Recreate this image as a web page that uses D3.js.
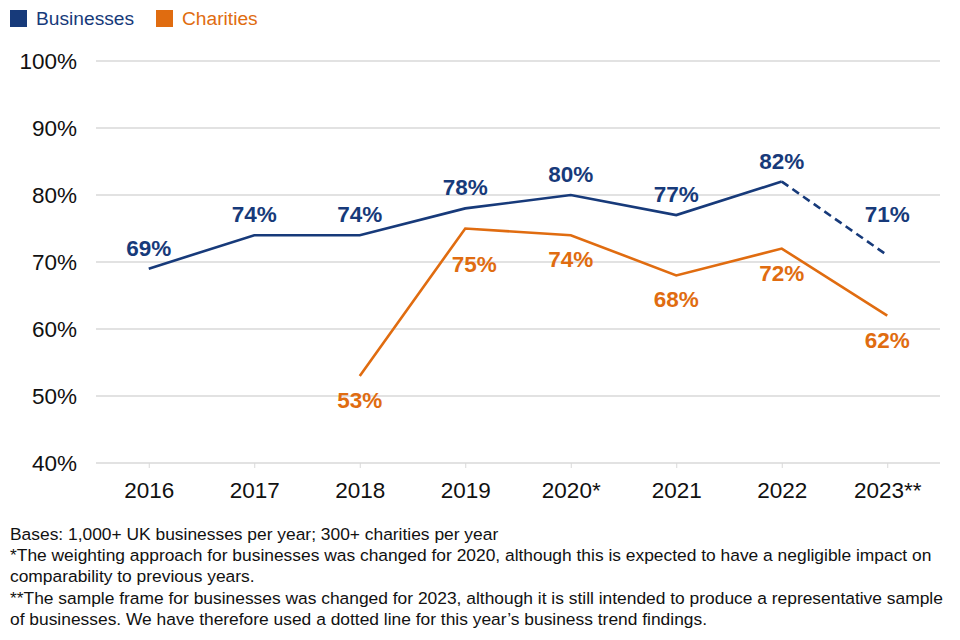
<!DOCTYPE html>
<html lang="en">
  <head>
    <meta charset="UTF-8" />
    <title>Businesses and charities trend</title>
    <script src="https://d3js.org/d3.v7.min.js"></script>
    <style>
      body {
        margin: 0;
        background: #fff;
        font-family: "Liberation Sans", Arial, sans-serif;
      }
    </style>
  </head>
  <body>
    <div class="chart"></div>
  </body>

  <script>
    var years = ["2016", "2017", "2018", "2019", "2020*", "2021", "2022", "2023**"];
    var businesses = [69, 74, 74, 78, 80, 77, 82, 71];
    var charities = [null, null, 53, 75, 74, 68, 72, 62];
    var yTicks = [40, 50, 60, 70, 80, 90, 100];
    var footnotes = [
      "Bases: 1,000+ UK businesses per year; 300+ charities per year",
      "*The weighting approach for businesses was changed for 2020, although this is expected to have a negligible impact on",
      "comparability to previous years.",
      "**The sample frame for businesses was changed for 2023, although it is still intended to produce a representative sample",
      "of businesses. We have therefore used a dotted line for this year\u2019s business trend findings.",
    ];

    var blue = "#173a7a";
    var orange = "#e06c10";

    var width = 960;
    var height = 640;
    var margin = { top: 61, right: 20, bottom: 177, left: 96 };

    var svg = d3
      .select(".chart")
      .append("svg")
      .attr("width", width)
      .attr("height", height);

    var x = d3
      .scalePoint()
      .domain(years)
      .range([margin.left, width - margin.right])
      .padding(0.5);

    var y = d3
      .scaleLinear()
      .domain([40, 100])
      .range([height - margin.bottom, margin.top]);

    // gridlines
    svg
      .append("g")
      .selectAll("line")
      .data(yTicks)
      .join("line")
      .attr("x1", margin.left)
      .attr("x2", width - margin.right)
      .attr("y1", (d) => y(d))
      .attr("y2", (d) => y(d))
      .attr("stroke", "#d9d9d9")
      .attr("stroke-width", 1.3);

    // y axis labels
    var yAxis = d3
      .axisLeft(y)
      .tickValues(yTicks)
      .tickSize(0)
      .tickPadding(19)
      .tickFormat((d) => d + "%");
    svg
      .append("g")
      .attr("transform", `translate(${margin.left}, 0)`)
      .call(yAxis)
      .call((g) => g.select(".domain").remove())
      .selectAll("text")
      .attr("font-family", "Liberation Sans, Arial, sans-serif")
      .attr("font-size", 22.5)
      .attr("fill", "#111");

    // x axis
    var xAxis = d3.axisBottom(x).tickSize(5).tickPadding(14);
    svg
      .append("g")
      .attr("transform", `translate(0, ${y(40)})`)
      .call(xAxis)
      .call((g) => g.select(".domain").remove())
      .call((g) => g.selectAll("line").attr("stroke", "#d9d9d9"))
      .selectAll("text")
      .attr("font-family", "Liberation Sans, Arial, sans-serif")
      .attr("font-size", 22.5)
      .attr("fill", "#111");

    var bizData = years.map((yr, i) => ({ year: yr, v: businesses[i] }));
    var charData = years
      .map((yr, i) => ({ year: yr, v: charities[i] }))
      .filter((d) => d.v != null);

    var line = d3
      .line()
      .x((d) => x(d.year))
      .y((d) => y(d.v));

    // businesses: solid up to 2022, dashed to 2023
    svg
      .append("path")
      .datum(bizData.slice(0, 7))
      .attr("fill", "none")
      .attr("stroke", blue)
      .attr("stroke-width", 2.6)
      .attr("d", line);

    svg
      .append("path")
      .datum(bizData.slice(6))
      .attr("fill", "none")
      .attr("stroke", blue)
      .attr("stroke-width", 2.6)
      .attr("stroke-dasharray", "8,5")
      .attr("d", line);

    svg
      .append("path")
      .datum(charData)
      .attr("fill", "none")
      .attr("stroke", orange)
      .attr("stroke-width", 2.6)
      .attr("d", line);

    // labels (a couple nudged to keep clear of the lines)
    var bizNudge = { "2023**": { dx: 0, dy: -20 } };
    var charNudge = { "2019": { dx: 9, dy: 11 } };

    svg
      .append("g")
      .selectAll("text")
      .data(bizData)
      .join("text")
      .attr("x", (d) => x(d.year) + (bizNudge[d.year] ? bizNudge[d.year].dx : 0))
      .attr("y", (d) => y(d.v) - 13 + (bizNudge[d.year] ? bizNudge[d.year].dy : 0))
      .attr("text-anchor", "middle")
      .attr("font-size", 22.5)
      .attr("font-weight", "bold")
      .attr("fill", blue)
      .text((d) => d.v + "%");

    svg
      .append("g")
      .selectAll("text")
      .data(charData)
      .join("text")
      .attr("x", (d) => x(d.year) + (charNudge[d.year] ? charNudge[d.year].dx : 0))
      .attr("y", (d) => y(d.v) + 32 + (charNudge[d.year] ? charNudge[d.year].dy : 0))
      .attr("text-anchor", "middle")
      .attr("font-size", 22.5)
      .attr("font-weight", "bold")
      .attr("fill", orange)
      .text((d) => d.v + "%");

    // legend
    var legend = svg.append("g");
    var legendItems = [
      { name: "Businesses", color: blue, x: 10 },
      { name: "Charities", color: orange, x: 156 },
    ];
    legend
      .selectAll("rect")
      .data(legendItems)
      .join("rect")
      .attr("x", (d) => d.x)
      .attr("y", 10)
      .attr("width", 17)
      .attr("height", 17)
      .attr("fill", (d) => d.color);
    legend
      .selectAll("text")
      .data(legendItems)
      .join("text")
      .attr("x", (d) => d.x + 26)
      .attr("y", 25)
      .attr("font-size", 19.2)
      .attr("fill", (d) => d.color)
      .text((d) => d.name);

    // footnotes
    svg
      .append("g")
      .selectAll("text")
      .data(footnotes)
      .join("text")
      .attr("x", 10)
      .attr("y", (d, i) => 540 + i * 21.2)
      .attr("font-size", 17.4)
      .attr("fill", "#111")
      .text((d) => d);
  </script>
</html>
